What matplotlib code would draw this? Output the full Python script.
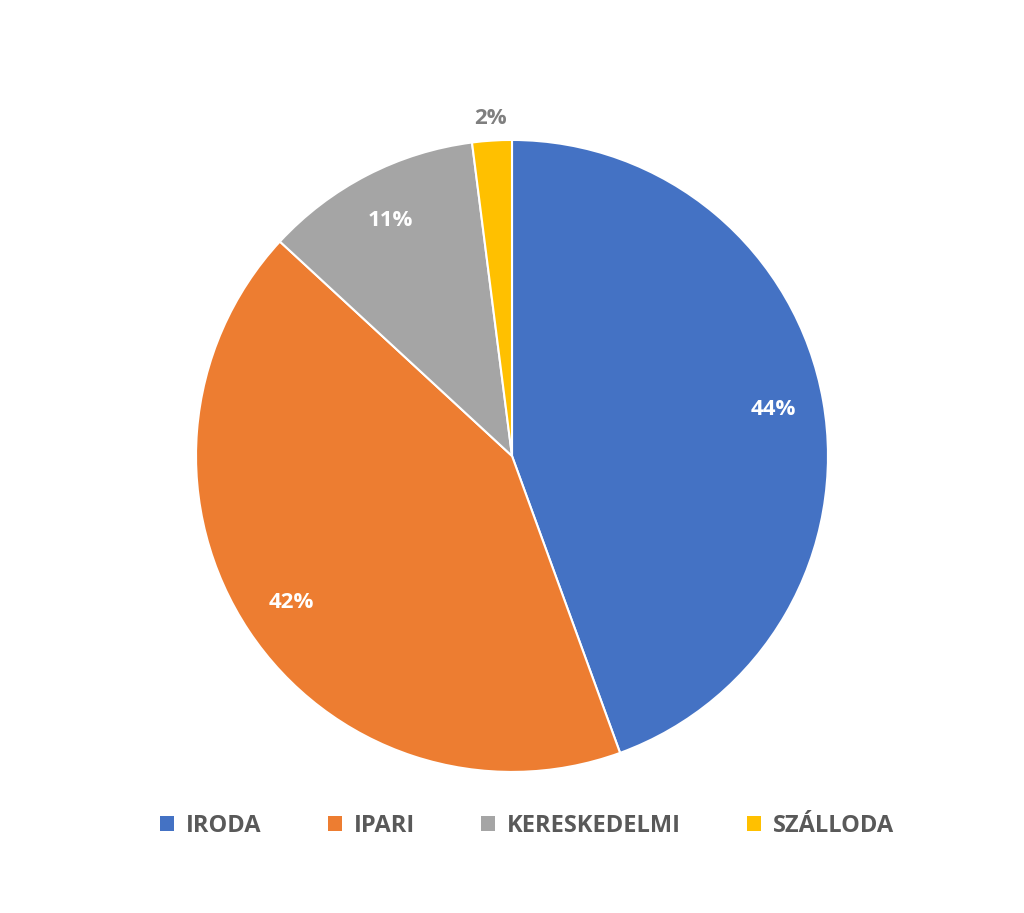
import matplotlib
matplotlib.use("Agg")
import matplotlib.pyplot as plt
from matplotlib.patches import Patch

categories = ["IRODA", "IPARI", "KERESKEDELMI", "SZÁLLODA"]
values = [44, 42, 11, 2]
labels = ["44%", "42%", "11%", "2%"]
colors = ["#4472C4", "#ED7D31", "#A5A5A5", "#FFC000"]

fig = plt.figure(figsize=(10.24, 9.13), dpi=100)
ax = fig.add_axes([0.5 - 0.3086, 0.5006 - 0.3461, 0.6172, 0.6922])
wedges, _ = ax.pie(values, colors=colors, startangle=90, counterclock=False,
                   wedgeprops=dict(edgecolor="white", linewidth=1.5))
ax.set_xlim(-1, 1); ax.set_ylim(-1, 1); ax.set_aspect("equal")
import numpy as np
tot = sum(values); cum = 0
for i, (v, lab) in enumerate(zip(values, labels)):
    mid = 90 - (cum + v / 2) / tot * 360
    cum += v
    if i == 3:
        r, c = 1.07, "#7F7F7F"
    elif i == 2:
        r, c = 0.84, "white"
    else:
        r, c = 0.84, "white"
    ax.text(r * np.cos(np.radians(mid)), r * np.sin(np.radians(mid)), lab,
            ha="center", va="center", color=c, fontsize=16, fontweight="bold",
            family="Open Sans")
handles = [Patch(facecolor=c, label=n) for c, n in zip(colors, categories)]
fig.legend(handles=handles, loc="center", bbox_to_anchor=(0.515, 0.095), ncol=4,
           frameon=False, prop=dict(family="Open Sans", weight="bold", size=17),
           handlelength=0.6, handleheight=0.6, columnspacing=2.8, handletextpad=0.5,
           labelcolor="#595959")
fig.savefig("out.png", dpi=100)
